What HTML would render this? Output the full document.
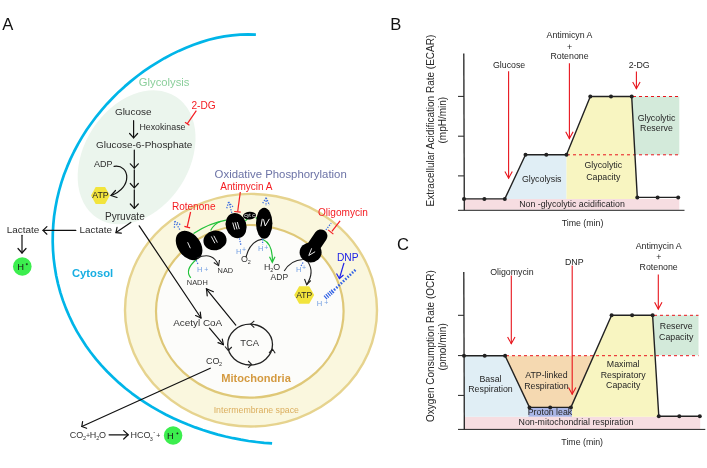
<!DOCTYPE html>
<html><head><meta charset="utf-8">
<style>
html,body{margin:0;padding:0;background:#fff;}
svg{display:block;will-change:transform;font-family:"Liberation Sans",sans-serif;}
</style></head>
<body>
<svg width="707" height="468" viewBox="0 0 707 468">
<rect width="707" height="468" fill="#fff"/>
<!-- PANEL_A -->
<g id="A">
<text x="2.2" y="29.8" font-size="16.6" fill="#111">A</text>
<!-- membrane -->
<path d="M255.9,34.6 L248.0,34.3 L240.1,34.6 L232.2,35.3 L224.4,36.4 L216.6,37.9 L208.8,39.8 L201.2,42.1 L193.6,44.7 L186.1,47.7 L178.8,50.9 L171.6,54.4 L164.5,58.2 L157.5,62.3 L150.6,66.6 L143.9,71.2 L137.4,76.0 L131.0,81.1 L124.8,86.4 L118.7,91.9 L112.9,97.7 L107.2,103.7 L101.8,109.9 L96.5,116.3 L91.5,123.0 L86.7,129.8 L82.2,136.9 L78.0,144.1 L74.1,151.5 L70.4,159.1 L67.1,166.9 L64.0,174.8 L61.3,182.9 L59.0,191.0 L57.0,199.3 L55.4,207.7 L54.1,216.1 L53.3,224.6 L52.8,233.2 L52.7,241.7 L53.0,250.3 L53.7,258.8 L54.8,267.3 L56.2,275.7 L58.1,284.1 L60.3,292.3 L62.9,300.4 L65.9,308.4 L69.3,316.2 L72.9,323.9 L76.9,331.4 L81.3,338.6 L85.9,345.7 L90.8,352.5 L96.0,359.1 L101.4,365.4 L107.1,371.5 L113.0,377.3 L119.1,382.9 L125.3,388.2 L131.8,393.3 L138.4,398.1 L145.2,402.6 L152.0,406.9 L159.0,410.9 L166.1,414.7 L173.3,418.3 L180.6,421.5 L187.9,424.6 L195.3,427.4 L202.8,430.0 L210.3,432.4 L217.9,434.6 L225.5,436.5 L233.2,438.2 L240.9,439.7 L248.6,441.0 L256.4,442.0 L264.2,442.9 L272.1,443.4" fill="none" stroke="#00b5e8" stroke-width="2.7" stroke-linejoin="round"/>
<!-- glycolysis blob -->
<ellipse cx="136.6" cy="157.3" rx="52.3" ry="72.3" transform="rotate(33 136.6 157.3)" fill="#ebf5ed"/>
<!-- mitochondria -->
<ellipse cx="251" cy="310.2" rx="126" ry="116.3" fill="#faf7de" stroke="#e6d38e" stroke-width="2.4"/>
<ellipse cx="249.8" cy="311.35" rx="93.8" ry="86.35" fill="#fcfcfa" stroke="#dfc878" stroke-width="2.2"/>
<!-- glycolysis texts -->
<text x="138.8" y="85.5" font-size="11.27" fill="#8ccf9c">Glycolysis</text>
<g fill="#2e2e2e">
<text x="114.9" y="114.9" font-size="9.97">Glucose</text>
<text x="139.4" y="129.5" font-size="8.82">Hexokinase</text>
<text x="96" y="147.9" font-size="9.96">Glucose-6-Phosphate</text>
<text x="93.9" y="166.9" font-size="9">ADP</text>
<text x="105" y="219.7" font-size="10.08">Pyruvate</text>
<text x="79.5" y="233.3" font-size="9.94">Lactate</text>
<text x="6.7" y="233.3" font-size="9.94">Lactate</text>
</g>
<text x="191.4" y="108.6" font-size="10.13" fill="#f41c22">2-DG</text>
<text x="72" y="277.2" font-size="11.24" font-weight="bold" fill="#17aee2">Cytosol</text>
<!-- ATP hex glycolysis -->
<polygon points="91,195.5 95.7,186.9 105.1,186.9 109.8,195.5 105.1,204.1 95.7,204.1" fill="#f2e43c"/>
<text x="92.2" y="197.7" font-size="8.79" fill="#222">ATP</text>
<!-- glycolysis arrows -->
<g stroke="#111" stroke-width="1.2" fill="none" stroke-linecap="round" stroke-linejoin="round">
<line x1="133.6" y1="120.7" x2="133.6" y2="137.8"/><polyline points="129.6,133.5 133.6,137.8 137.6,133.5"/>
<line x1="134.3" y1="150.1" x2="134.3" y2="168.1"/><polyline points="130.3,163.8 134.3,168.1 138.3,163.8"/>
<line x1="134.3" y1="169.8" x2="134.3" y2="187.8"/><polyline points="130.3,183.5 134.3,187.8 138.3,183.5"/>
<line x1="134.3" y1="189.8" x2="134.3" y2="208.3"/><polyline points="130.3,204 134.3,208.3 138.3,204"/>
<path d="M114.1,166.4 C130,164 133,188 111,195.5"/><polyline points="115.5,190.5 111,195.5 117,197.5"/>
<line x1="130.8" y1="222.4" x2="116" y2="232.6"/><polyline points="117,227.3 116,232.6 121.3,233.2"/>
<line x1="75.8" y1="230.4" x2="43" y2="230.4"/><polyline points="46.9,226.6 43,230.4 46.9,234.2"/>
<line x1="22" y1="235.3" x2="22" y2="253"/><polyline points="18,248.5 22,253 26,248.5"/>
<line x1="139.2" y1="225.8" x2="201" y2="318"/><polyline points="195.6,315.5 201,318 200.3,312.2"/>
<line x1="209.5" y1="328.1" x2="223.4" y2="344.7"/><polyline points="218,342.6 223.4,344.7 222.3,339"/>
<line x1="235.8" y1="325.1" x2="206.3" y2="288.8"/><polyline points="207.2,295.8 206.5,288.7 213.4,291.7"/>
<line x1="210.3" y1="368.2" x2="81.8" y2="426.5"/><polyline points="82.6,421.6 81.8,426.5 86.6,428.3"/>
<line x1="109.1" y1="434.8" x2="128.2" y2="434.8"/><polyline points="123.7,430.6 128.2,434.8 123.7,439"/>
</g>
<!-- 2-DG inhibitor -->
<g stroke="#f41c22" stroke-width="1.2" fill="none">
<line x1="196.3" y1="110.6" x2="187.2" y2="123.8"/><line x1="185" y1="122.3" x2="189.4" y2="125.3"/>
</g>
<!-- H+ circle -->
<circle cx="22.3" cy="266.5" r="9.3" fill="#3cee4e"/>
<text x="17.2" y="269.8" font-size="9.4" fill="#1a1a1a">H</text><path d="M25.8,264.2 H27.8 M26.8,263.2 V265.2" stroke="#1a1a1a" stroke-width="0.75"/>
<!-- OxPhos -->
<text x="214.6" y="178" font-size="11.38" fill="#6c73a6">Oxidative Phosphorylation</text>
<text x="220.3" y="190.1" font-size="10" fill="#f41c22">Antimycin A</text>
<text x="171.9" y="209.7" font-size="10.05" fill="#f41c22">Rotenone</text>
<text x="318" y="216.2" font-size="10.08" fill="#f41c22">Oligomycin</text>
<text x="337" y="260.7" font-size="10.2" fill="#1e22e6">DNP</text>
<g stroke="#f41c22" stroke-width="1.2" fill="none">
<line x1="190.6" y1="212" x2="187.2" y2="226.9"/><line x1="184.4" y1="226.4" x2="190.1" y2="227.9"/>
<line x1="240.3" y1="192" x2="237.7" y2="211.5"/><line x1="234.2" y1="211.5" x2="240.7" y2="212.2"/>
<line x1="340.1" y1="220.9" x2="331.9" y2="231.4"/><line x1="328.1" y1="229.9" x2="333.4" y2="234.1"/>
</g>
<!-- green lines -->
<g stroke="#22c23a" stroke-width="1.2" fill="none">
<path d="M193.5,233.6 Q209.5,223.1 226,220.2"/>
<path d="M210.6,230.6 Q214,223.5 221,221.2"/>
<path d="M245.3,221 L247.6,218.7"/>
<path d="M255.6,217.5 L257,218.4"/>
<path d="M190.8,277.8 Q184,270 196.6,259.2"/>
<path d="M263,239.5 Q273,244 272.3,261.5"/><polyline points="269.5,256.8 272.3,262.3 275,256.8"/>
</g>
<!-- complexes -->
<g fill="#000">
<ellipse cx="189.1" cy="245.5" rx="11.3" ry="16.3" transform="rotate(-37 189.1 245.5)"/>
<ellipse cx="215" cy="240.4" rx="11.6" ry="9.9" transform="rotate(-10 215 240.4)"/>
<ellipse cx="236.1" cy="225.6" rx="10.3" ry="12.8" transform="rotate(-18 236.1 225.6)"/>
<ellipse cx="249.5" cy="215.6" rx="6.5" ry="3.8" transform="rotate(-5 249.5 215.6)"/>
<ellipse cx="264.2" cy="223.3" rx="8.2" ry="15.5"/>
<line x1="320.8" y1="236" x2="312" y2="249" stroke="#000" stroke-width="13.2" stroke-linecap="round"/>
<ellipse cx="310.6" cy="252.4" rx="11" ry="10"/>
</g>
<g stroke="#fff" stroke-width="0.9" fill="none" stroke-linecap="round">
<path d="M187.8,242.6 L190.2,247.9"/>
<path d="M211.5,236.8 L214.7,242.9 M214,236.1 L217.2,242.2"/>
<path d="M232.8,223 L234.6,229.3 M235.1,222.7 L236.9,229 M237.4,222.4 L239.2,228.7"/>
<path d="M311.5,248.7 L308.8,255.5 L314.8,251.9"/>
</g>
<path d="M262.2,219.2 L261,226 M263.6,219.6 L265.2,226 L269.2,219.2" stroke="#fff" stroke-width="0.95" fill="none" stroke-linecap="round" stroke-linejoin="round"/>
<text x="249.5" y="217.4" font-size="5.2" fill="#fff" text-anchor="middle">cyt c</text>
<!-- black curves -->
<g stroke="#222" stroke-width="1.1" fill="none">
<path d="M196.9,258.1 Q213,251 218.6,265.6"/><polyline points="213.8,262.5 218.6,265.6 219.5,260"/>
<path d="M246,257.3 Q250,241 262.6,239.1"/>
<path d="M284.2,271 Q291,260 302.8,259.5"/>
<path d="M307.5,261.3 Q315,272 306.7,284.7"/><polyline points="304.5,279 306.7,284.7 310.7,280.5"/>
</g>
<!-- blue dashes -->
<g stroke="#3c6ee0" stroke-width="1.3" fill="none" stroke-dasharray="1.3,1.3">
<path d="M174.7,221.2 L174.4,229 M174.7,221.2 L181.1,225.1 M176.5,224 L180,230"/>
<path d="M228.6,202 L226.5,209 M228.6,202 L233.5,207.5 M229.5,204 L231.8,213"/>
<path d="M266.2,197.7 L262.1,204.2 M266.2,197.7 L269.4,205 M266.2,198 L266,206"/>
<path d="M196.2,260.4 L198.4,264.9"/>
<path d="M239.4,238.4 L240.9,245.1"/>
<path d="M262.6,239.1 L262.6,244.4"/>
<path d="M303,262.5 L301,266"/>
<path d="M325.9,229.9 L331.1,223.2"/>
</g>
<g stroke="#3060e4" fill="none">
<path d="M355.4,269.9 L332,292" stroke-width="2.6" stroke-dasharray="1.5,1.6"/>
<path d="M333,291 L325,297.8" stroke-width="4.6" stroke-dasharray="1.2,1.1"/>
</g>
<g stroke="#1e22e6" stroke-width="1.2" fill="none">
<line x1="344" y1="262.9" x2="339.4" y2="278.5"/><polyline points="336.5,273.5 339.4,278.5 343.5,275"/>
</g>
<g fill="#74a0e2">
<text x="196.9" y="272" font-size="7.6">H</text><text x="204.3" y="271.6" font-size="7">+</text>
<text x="236" y="253.6" font-size="7.6">H</text><text x="242" y="251.8" font-size="7">+</text>
<text x="258" y="251" font-size="7.6">H</text><text x="264.2" y="249.6" font-size="7">+</text>
<text x="296.1" y="271.9" font-size="7.6">H</text><text x="302" y="270.3" font-size="7">+</text>
<text x="316.8" y="306.4" font-size="7.6">H</text><text x="324.2" y="305" font-size="7">+</text>
</g>
<g fill="#333">
<text x="217.6" y="272.6" font-size="7.37">NAD</text>
<text x="186.8" y="284.5" font-size="7.42">NADH</text>
<text x="240.9" y="262.3" font-size="8.9">O</text><text x="247.8" y="263.9" font-size="5.4">2</text>
<text x="263.9" y="270" font-size="8.9">H</text><text x="270.3" y="271.6" font-size="5.4">2</text><text x="273.2" y="270" font-size="8.9">O</text>
<text x="270.6" y="279.5" font-size="8.5">ADP</text>
<text x="173.2" y="326" font-size="9.92">Acetyl CoA</text>
<text x="240.3" y="346.2" font-size="9.39">TCA</text>
<text x="205.9" y="364" font-size="9">CO</text><text x="219" y="365.7" font-size="5.5">2</text>
</g>
<!-- ATP hex mito -->
<polygon points="294.2,295 299.2,286.2 309.2,286.2 314.2,295 309.2,303.8 299.2,303.8" fill="#f2e43c"/>
<text x="304.2" y="297.9" font-size="8.5" fill="#222" text-anchor="middle">ATP</text>
<!-- TCA circle -->
<ellipse cx="250.1" cy="344.6" rx="22.4" ry="20.4" fill="none" stroke="#222" stroke-width="1.3"/>
<g stroke="#222" stroke-width="1.1" fill="none" stroke-linejoin="round">
<polyline points="254.3,320.9 250.6,324.2 254.3,327.6"/>
<polyline points="225,346.5 228.2,350.5 231.8,347"/>
<polyline points="248.2,361 251.6,364.4 248.2,367.8"/>
<polyline points="269,352.8 272.6,349.2 275.2,353.2"/>
</g>
<text x="221.3" y="381.7" font-size="11.08" font-weight="bold" fill="#d49a40">Mitochondria</text>
<text x="213.7" y="412.6" font-size="8.78" fill="#dbae5e">Intermembrane space</text>
<!-- bottom reaction -->
<g fill="#333">
<text x="69.8" y="438.3" font-size="9">CO</text><text x="83" y="440.3" font-size="5.5">2</text>
<text x="86" y="438" font-size="7">+</text>
<text x="89.7" y="438.3" font-size="9">H</text><text x="96.2" y="440.3" font-size="5.5">2</text><text x="99" y="438.3" font-size="9">O</text>
<text x="130.6" y="438.3" font-size="9">HCO</text><text x="149.8" y="440.5" font-size="5.5">3</text><text x="153.2" y="433.6" font-size="6">-</text><text x="156.3" y="438" font-size="7">+</text>
</g>
<circle cx="173.1" cy="435.5" r="9.25" fill="#3cee4e"/>
<text x="167.1" y="438.8" font-size="9.4" fill="#1a1a1a">H</text><path d="M176.4,433.4 H178.4 M177.4,432.4 V434.4" stroke="#1a1a1a" stroke-width="0.75"/>
</g>
<!-- PANEL_B -->
<g id="B">
<text x="390.3" y="29.8" font-size="16.6" fill="#111">B</text>
<rect x="464" y="198.9" width="215.3" height="10.8" fill="#f6dde1"/>
<polygon points="504.8,198.9 525.5,154.8 566.5,154.8 566.5,198.9" fill="#e0eef5"/>
<polygon points="566.5,198.9 566.5,154.8 590.3,96.5 631.7,96.5 637.3,198.9" fill="#f8f5c1"/>
<polygon points="631.7,96.5 679.3,96.5 679.3,154.8 634.9,154.8" fill="#d3eada"/>
<g stroke="#e8141c" stroke-width="1" stroke-dasharray="3,3" fill="none">
<line x1="633" y1="96.5" x2="679.3" y2="96.5"/>
<line x1="567" y1="154.8" x2="679.3" y2="154.8"/>
</g>
<g stroke="#222" stroke-width="1" fill="none">
<line x1="463.8" y1="53.5" x2="464.3" y2="210.3" stroke-width="1.3"/>
<line x1="458" y1="210.3" x2="684.5" y2="210.3"/>
<line x1="458" y1="96.4" x2="464" y2="96.4"/>
<line x1="458" y1="136.2" x2="464" y2="136.2"/>
<line x1="458" y1="175.9" x2="464" y2="175.9"/>
</g>
<polyline points="464,198.9 504.8,198.9 525.5,154.8 566.5,154.8 590.3,96.5 631.7,96.5 637.3,197.4 678.2,197.4" fill="none" stroke="#222" stroke-width="1.4" stroke-linejoin="round"/>
<g fill="#222">
<circle cx="464" cy="198.9" r="2"/><circle cx="484.4" cy="198.9" r="2"/><circle cx="504.8" cy="198.9" r="2"/>
<circle cx="525.5" cy="154.8" r="2"/><circle cx="546.3" cy="154.8" r="2"/><circle cx="566.5" cy="154.8" r="2"/>
<circle cx="590.3" cy="96.5" r="2"/><circle cx="611" cy="96.5" r="2"/><circle cx="631.7" cy="96.5" r="2"/>
<circle cx="637.3" cy="197.4" r="2"/><circle cx="657.6" cy="197.4" r="2"/><circle cx="678.2" cy="197.4" r="2"/>
</g>
<g stroke="#e8141c" stroke-width="1.1" fill="none">
<line x1="508.6" y1="71.3" x2="508.6" y2="178.5"/><polyline points="504.9,171.4 508.6,178.2 512.3,171.4"/>
<line x1="569.4" y1="63.2" x2="569.4" y2="138.9"/><polyline points="565.7,131.8 569.4,138.6 573.1,131.8"/>
<line x1="636.4" y1="71.5" x2="636.4" y2="89"/><polyline points="632.7,81.9 636.4,88.7 640.1,81.9"/>
</g>
<g font-size="8.8" fill="#262626" text-anchor="middle">
<text x="509.1" y="67.7">Glucose</text>
<text x="569.5" y="38.4">Antimicyn A</text>
<text x="569.5" y="50">+</text>
<text x="569.5" y="59">Rotenone</text>
<text x="639.2" y="68">2-DG</text>
<text x="541.7" y="181.8">Glycolysis</text>
<text x="603.3" y="168.3">Glycolytic</text>
<text x="603.3" y="179.5">Capacity</text>
<text x="656.5" y="120.9">Glycolytic</text>
<text x="656.5" y="130.9">Reserve</text>
<text x="582.5" y="225.8">Time (min)</text>
<text x="572" y="206.8">Non -glycolytic acidification</text>
</g>
<g font-size="10" fill="#262626" text-anchor="middle">
<text transform="translate(434,120.6) rotate(-90)">Extracellular Acidification Rate (ECAR)</text>
<text transform="translate(446,120.2) rotate(-90)">(mpH/min)</text>
</g>
</g>
<!-- PANEL_C -->
<g id="C">
<text x="397" y="250.1" font-size="16.6" fill="#111">C</text>
<rect x="464" y="416.7" width="236.2" height="12.3" fill="#f6dde1"/>
<polygon points="464,355.7 505.1,355.7 529.5,407.4 529.5,416.7 464,416.7" fill="#e0eef5"/>
<polygon points="505.1,355.7 593.7,355.7 570.9,407.4 529.5,407.4" fill="#f5d9b1"/>
<polygon points="570.9,416.7 570.9,407.4 611.6,315.3 652.6,315.3 658.8,416.7" fill="#f8f5c1"/>
<polygon points="652.6,315.3 698.5,315.3 698.5,355.2 655.1,355.2" fill="#d3eada"/>
<rect x="528.5" y="407.4" width="43.5" height="9.3" fill="#aab6e6"/>
<g stroke="#e8141c" stroke-width="1" stroke-dasharray="3,3" fill="none">
<line x1="506" y1="355.7" x2="698.5" y2="355.7"/>
<line x1="654" y1="315.3" x2="698.5" y2="315.3"/>
</g>
<g stroke="#222" stroke-width="1" fill="none">
<line x1="463.8" y1="272" x2="464.3" y2="429.4" stroke-width="1.3"/>
<line x1="458" y1="429.4" x2="705.3" y2="429.4"/>
<line x1="458" y1="315.3" x2="464" y2="315.3"/>
<line x1="458" y1="355.6" x2="464" y2="355.6"/>
<line x1="458" y1="395.4" x2="464" y2="395.4"/>
</g>
<polyline points="464,355.7 505.1,355.7 529.5,407.4 570.9,407.4 611.6,315.3 652.6,315.3 658.8,416.2 699.8,416.2" fill="none" stroke="#222" stroke-width="1.4" stroke-linejoin="round"/>
<g fill="#222">
<circle cx="464" cy="355.7" r="2"/><circle cx="484.7" cy="355.7" r="2"/><circle cx="505.1" cy="355.7" r="2"/>
<circle cx="529.5" cy="407.4" r="2"/><circle cx="550.2" cy="407.4" r="2"/><circle cx="570.9" cy="407.4" r="2"/>
<circle cx="611.6" cy="315.3" r="2"/><circle cx="632.1" cy="315.3" r="2"/><circle cx="652.6" cy="315.3" r="2"/>
<circle cx="658.8" cy="416.2" r="2"/><circle cx="679.3" cy="416.2" r="2"/><circle cx="699.8" cy="416.2" r="2"/>
</g>
<g stroke="#e8141c" stroke-width="1.1" fill="none">
<line x1="511.3" y1="275.6" x2="511.3" y2="344"/><polyline points="507.6,336.9 511.3,343.7 515.0,336.9"/>
<line x1="572.2" y1="265.4" x2="572.2" y2="394.5"/><polyline points="568.5,387.4 572.2,394.2 575.9,387.4"/>
<line x1="658.3" y1="274.6" x2="658.3" y2="309.3"/><polyline points="654.6,302.2 658.3,309.0 662.0,302.2"/>
</g>
<g font-size="8.8" fill="#262626" text-anchor="middle">
<text x="511.9" y="275">Oligomycin</text>
<text x="574.3" y="264.5">DNP</text>
<text x="658.7" y="249.2">Antimycin A</text>
<text x="658.7" y="260">+</text>
<text x="658.7" y="269.8">Rotenone</text>
<text x="490.5" y="381.6">Basal</text>
<text x="490.5" y="391.7">Respiration</text>
<text x="546.4" y="377.6">ATP-linked</text>
<text x="546.4" y="388.8">Respiration</text>
<text x="550" y="414.7">Proton leak</text>
<text x="576" y="425.3">Non-mitochondrial respiration</text>
<text x="623.2" y="366.9">Maximal</text>
<text x="623.2" y="377.8">Respiratory</text>
<text x="623.2" y="388.3">Capacity</text>
<text x="676.2" y="329.3">Reserve</text>
<text x="676.2" y="339.6">Capacity</text>
<text x="582.2" y="444.5">Time (min)</text>
</g>
<g font-size="10" fill="#262626" text-anchor="middle">
<text transform="translate(434,346.1) rotate(-90)">Oxygen Consumption Rate (OCR)</text>
<text transform="translate(446,346.9) rotate(-90)">(pmol/min)</text>
</g>
</g>
</svg>
</body></html>
